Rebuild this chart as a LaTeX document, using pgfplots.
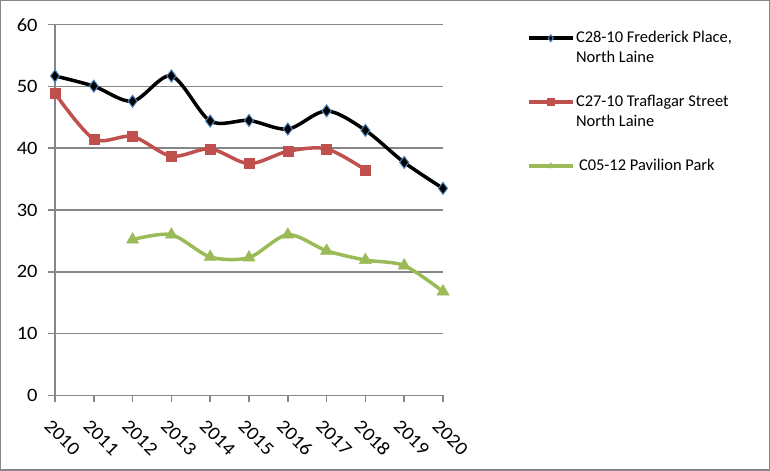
\documentclass[border=0pt]{standalone}
\usepackage{pgfplots}
\pgfplotsset{compat=1.18}
\usepackage{fontspec}
\setmainfont{Carlito}
\newfontfamily\tickfont[FakeStretch=1.08]{Carlito}
\definecolor{gridgray}{HTML}{868686}
\definecolor{myred}{HTML}{C0504D}
\definecolor{mygreen}{HTML}{9BBB59}
\definecolor{myblue}{HTML}{4F81BD}
\newcommand\legtext[1]{\smash{\raisebox{-5bp}{\begin{tabular}[t]{@{}l@{}}#1\end{tabular}}}}
\begin{document}
\begin{tikzpicture}[x=1bp,y=1bp]
\draw[gridgray, line width=1.5bp] (0.75,0.75) rectangle (769.25,470.25);
\begin{axis}[at={(55bp,75.7bp)}, anchor=south west, scale only axis,
 width=388bp, height=370.6bp,
 xmin=2010, xmax=2020, ymin=0, ymax=60,
 xtick={2010,2011,...,2020}, ytick={0,10,...,60},
 axis x line*=bottom, axis y line*=left,
 axis line style={gridgray, line width=1.5bp},
 ymajorgrids, grid style={gridgray, line width=1.5bp},
 tick style={gridgray, line width=1.5bp},
 major tick length=7bp, tick align=outside,
 /pgf/number format/1000 sep={},
 /pgf/number format/assume math mode=true,
 x tick label style={rotate=-45, anchor=north west, xshift=6bp, yshift=-10bp,
   font=\tickfont\fontsize{19}{20}\selectfont},
 y tick label style={xshift=-7bp, font=\tickfont\fontsize{19}{20}\selectfont},
 clip=false,
 legend style={at={(1.216,0.9735)}, anchor=north west, draw=none, fill=none,
   inner sep=0pt, row sep=57bp, font=\fontsize{16.5}{20}\selectfont,
   nodes={inner sep=1.5bp}, cells={anchor=west}},
 legend image code/.code={\draw[#1, mark repeat=2, mark phase=2, mark size=3.5bp]
   plot coordinates {(0bp,0bp) (22bp,0bp) (44bp,0bp)};},
]
\addplot[black, line width=3.5bp, smooth, mark=diamond*, mark size=6bp,
  mark options={fill=black, draw=myblue, line width=1bp}] coordinates {
(2010,51.7) (2011,50.05) (2012,47.6) (2013,51.7) (2014,44.4) (2015,44.5)
(2016,43.1) (2017,46.05) (2018,42.9) (2019,37.7) (2020,33.5)};
\addlegendentry{\legtext{C28-10 Frederick Place,\\North Laine}}
\addplot[myred, line width=3.5bp, smooth, mark=square*, mark size=5bp,
  mark options={line width=0.5bp}] coordinates {
(2010,48.9) (2011,41.5) (2012,41.9) (2013,38.7) (2014,39.9) (2015,37.5)
(2016,39.5) (2017,39.9) (2018,36.5)};
\addlegendentry{\legtext{C27-10 Traflagar Street\\North Laine}}
\addplot[mygreen, line width=3.5bp, smooth, mark=triangle*, mark size=7bp,
  mark options={line width=0.5bp}] coordinates {
(2012,25.2) (2013,26.0) (2014,22.4) (2015,22.3) (2016,26.0) (2017,23.4)
(2018,21.9) (2019,21.0) (2020,16.8)};
\addlegendentry{\legtext{\hspace*{3bp}C05-12 Pavilion Park}}
\end{axis}
\end{tikzpicture}
\end{document}
